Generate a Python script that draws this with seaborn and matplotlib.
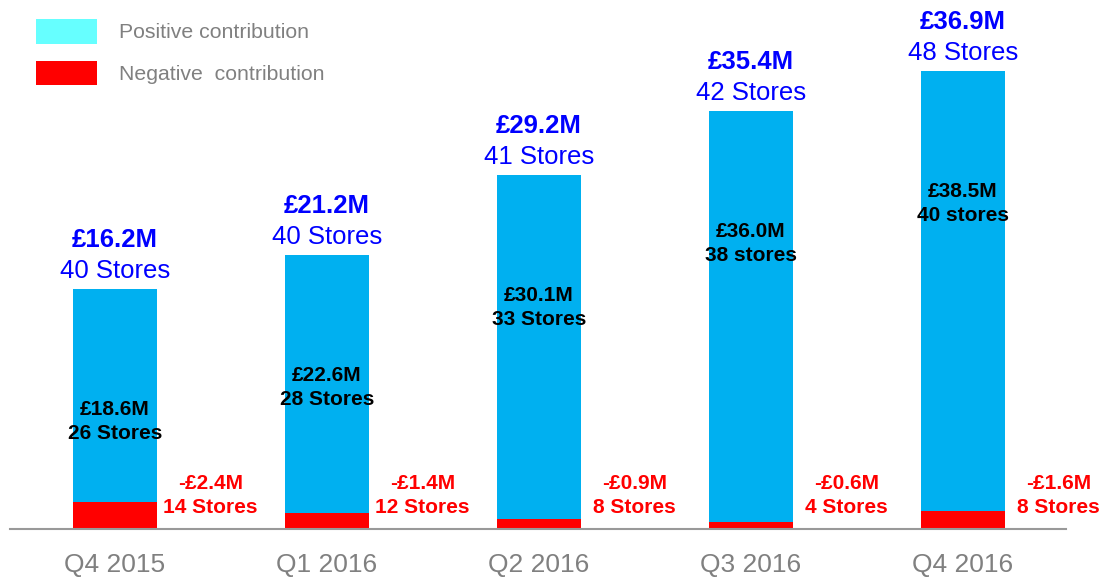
import seaborn as sns
import matplotlib.pyplot as plt
import pandas as pd
from matplotlib.patches import Patch

# quarterly store contribution data (GBP millions)
quarters = ['Q4 2015', 'Q1 2016', 'Q2 2016', 'Q3 2016', 'Q4 2016']
net_value = [16.2, 21.2, 29.2, 35.4, 36.9]
net_stores = [40, 40, 41, 42, 48]
pos_value = [18.6, 22.6, 30.1, 36.0, 38.5]
pos_stores = [26, 28, 33, 38, 40]
pos_word = ['Stores', 'Stores', 'Stores', 'stores', 'stores']
neg_value = [-2.4, -1.4, -0.9, -0.6, -1.6]
neg_stores = [14, 12, 8, 4, 8]

df = pd.DataFrame({'quarter': quarters, 'pos': pos_value,
                   'neg': [-v for v in neg_value]})
df['total'] = df['pos'] + df['neg']

sns.set_style('white')
plt.rcParams['font.family'] = ['Liberation Sans', 'DejaVu Sans']

fig = plt.figure(figsize=(10.99, 5.77), dpi=100)
ax = fig.add_axes([10 / 1099, 48 / 577, 1056 / 1099, 529 / 577])

# stacked: blue total first, red negative part drawn over its base
sns.barplot(data=df, x='quarter', y='total', color='#00B0F0', saturation=1,
            width=0.396, linewidth=0, edgecolor='none', ax=ax)
sns.barplot(data=df, x='quarter', y='neg', color='#FF0000', saturation=1,
            width=0.396, linewidth=0, edgecolor='none', ax=ax)

ax.set_xlim(-0.495, 4.486)
ax.set_ylim(0, 46.3)
ax.set_xlabel('')
ax.set_ylabel('')
ax.set_yticks([])
for s in ['top', 'right', 'left']:
    ax.spines[s].set_visible(False)
ax.spines['bottom'].set_color('#999999')
ax.spines['bottom'].set_linewidth(1.5)
ax.tick_params(axis='x', length=0, pad=17, labelsize=19, labelcolor='#808080')

for i in range(len(quarters)):
    top = df['total'][i]
    ax.annotate(f'£{net_value[i]:.1f}M', (i, top), xytext=(0, 35),
                textcoords='offset points', ha='center', va='center',
                fontsize=18.5, fontweight='bold', color='#0000FF')
    ax.annotate(f'{net_stores[i]} Stores', (i, top), xytext=(0, 13),
                textcoords='offset points', ha='center', va='center',
                fontsize=18.5, color='#0000FF')
    ax.annotate(f'£{pos_value[i]:.1f}M', (i, top), xytext=(0, -87),
                textcoords='offset points', ha='center', va='center',
                fontsize=15, fontweight='bold', color='black')
    ax.annotate(f'{pos_stores[i]} {pos_word[i]}', (i, top), xytext=(0, -104),
                textcoords='offset points', ha='center', va='center',
                fontsize=15, fontweight='bold', color='black')
    ax.annotate(f'-£{-neg_value[i]:.1f}M', (i + 0.45, 0), xytext=(0, 33),
                textcoords='offset points', ha='center', va='center',
                fontsize=15, fontweight='bold', color='#FF0000')
    ax.annotate(f'{neg_stores[i]} Stores', (i + 0.45, 0), xytext=(0, 15.5),
                textcoords='offset points', ha='center', va='center',
                fontsize=15, fontweight='bold', color='#FF0000')

handles = [Patch(facecolor='#66FFFF', edgecolor='none', label='Positive contribution'),
           Patch(facecolor='#FF0000', edgecolor='none', label='Negative  contribution')]
ax.legend(handles=handles, loc='upper left',
          bbox_to_anchor=(36 / 1099, 1 - 19 / 577), bbox_transform=fig.transFigure,
          frameon=False, fontsize=15.3, labelcolor='#808080',
          handlelength=2.87, handleheight=1.4, handletextpad=1.04,
          labelspacing=0.8, borderpad=0, borderaxespad=0)

fig.savefig('out.png', dpi=100)
